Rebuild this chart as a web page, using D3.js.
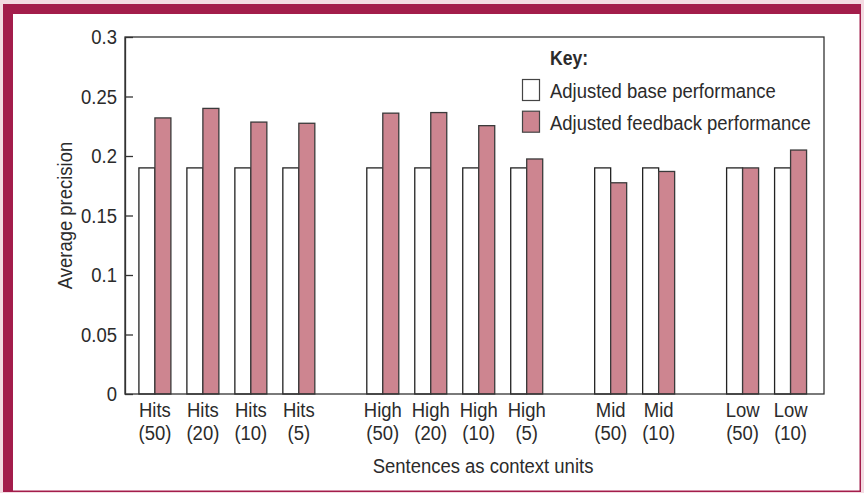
<!DOCTYPE html>
<html>
<head>
<meta charset="utf-8">
<script src="https://cdn.jsdelivr.net/npm/d3@7"></script>
<style>
  html, body { margin: 0; padding: 0; background: #f3dbe2; }
  svg { display: block; }
  text { font-family: "Liberation Sans", Arial, sans-serif; fill: #2b2b2b; }
</style>
</head>
<body>
<div id="chart"></div>
<script>
// chart data
const labelTop = ["Hits", "Hits", "Hits", "Hits", "High", "High", "High", "High", "Mid", "Mid", "Low", "Low"];
const labelBottom = ["(50)", "(20)", "(10)", "(5)", "(50)", "(20)", "(10)", "(5)", "(50)", "(10)", "(50)", "(10)"];
const baseValues = [0.19, 0.19, 0.19, 0.19, 0.19, 0.19, 0.19, 0.19, 0.19, 0.19, 0.19, 0.19];
const feedbackValues = [0.232, 0.240, 0.2285, 0.2275, 0.236, 0.2365, 0.2255, 0.1975, 0.1775, 0.187, 0.19, 0.205];
const yTicks = [0, 0.05, 0.1, 0.15, 0.2, 0.25, 0.3];
const seriesNames = ["Adjusted base performance", "Adjusted feedback performance"];

// dimensions
const width = 864;
const height = 493;
const margin = {left: 125, right: 40, top: 37, bottom: 99};
const groupGap = 0.75;   // extra space between groups, in slot units
const barFrac = 1 / 3;   // bar width as fraction of a slot
const squeeze = 0.88;    // horizontal squeeze to get a condensed look
const fontSize = "21px";
const colors = {base: "#ffffff", feedback: "#cd8590", frame: "#a31d4b", axis: "#333333"};

const svg = d3.select("#chart")
  .append("svg")
  .attr("width", width)
  .attr("height", height);

// condensed text helper
function label(parent, x, y, str, anchor, extra) {
  return parent.append("text")
    .attr("transform", `translate(${x},${y}) ${extra || ""} scale(${squeeze},1)`)
    .attr("text-anchor", anchor)
    .attr("font-size", fontSize)
    .text(str);
}

// page frame: thick crimson on left/top, thin on right/bottom
svg.append("rect")
  .attr("x", 3).attr("y", 4)
  .attr("width", 858).attr("height", 488)
  .attr("fill", colors.frame);
svg.append("rect")
  .attr("x", 13).attr("y", 14)
  .attr("width", 846.5).attr("height", 476.5)
  .attr("fill", "#ffffff");

// slot position of each category (groups taken from the top label)
const groupNames = Array.from(new Set(labelTop));
const slots = labelTop.map((t, i) => i + groupNames.indexOf(t) * groupGap);
const lastSlot = d3.max(slots);

const plotLeft = margin.left;
const plotRight = width - margin.right;
const plotTop = margin.top;

let xScale = d3.scaleLinear()
  .domain([-0.29, lastSlot + 1.03])
  .range([plotLeft, plotRight]);

let yScale = d3.scaleLinear()
  .domain([0, 0.3])
  .range([height - margin.bottom, margin.top]);

const bw = xScale(barFrac) - xScale(0);

// bars
const rows = labelTop.map((t, i) => ({i: i, slot: slots[i], base: baseValues[i], feedback: feedbackValues[i]}));

svg.selectAll(".bar-base")
  .data(rows)
  .enter()
  .append("rect")
    .attr("class", "bar-base")
    .attr("x", d => xScale(d.slot))
    .attr("y", d => yScale(d.base))
    .attr("width", bw)
    .attr("height", d => yScale(0) - yScale(d.base))
    .attr("fill", colors.base)
    .attr("stroke", "#222")
    .attr("stroke-width", 1.3);

svg.selectAll(".bar-feedback")
  .data(rows)
  .enter()
  .append("rect")
    .attr("class", "bar-feedback")
    .attr("x", d => xScale(d.slot) + bw)
    .attr("y", d => yScale(d.feedback))
    .attr("width", bw)
    .attr("height", d => yScale(0) - yScale(d.feedback))
    .attr("fill", colors.feedback)
    .attr("stroke", "#3a3a3a")
    .attr("stroke-width", 1.3);

// plot box (top and right edges) and axes
svg.append("rect")
  .attr("x", plotLeft).attr("y", plotTop)
  .attr("width", plotRight - plotLeft)
  .attr("height", yScale(0) - plotTop)
  .attr("fill", "none")
  .attr("stroke", colors.axis)
  .attr("stroke-width", 1.3);

const yAxis = svg.append("g")
  .attr("transform", `translate(${plotLeft}, 0)`)
  .call(d3.axisLeft(yScale)
    .tickValues(yTicks)
    .tickFormat(d => String(d))
    .tickSizeInner(-8)
    .tickSizeOuter(0)
    .tickPadding(8));
yAxis.attr("font-family", null).attr("font-size", null);
yAxis.select(".domain").attr("stroke", colors.axis).attr("stroke-width", 1.3);
yAxis.selectAll(".tick line").attr("stroke", colors.axis).attr("stroke-width", 1.3);
yAxis.selectAll(".tick text")
  .attr("font-size", fontSize)
  .attr("fill", "#2b2b2b")
  .attr("x", -8 / squeeze)
  .attr("transform", `scale(${squeeze},1)`);

// category labels, two lines each
rows.forEach(d => {
  const cx = xScale(d.slot) + bw;
  label(svg, cx, 417, labelTop[d.i], "middle");
  label(svg, cx, 440, labelBottom[d.i], "middle");
});

// axis titles
label(svg, 483, 473, "Sentences as context units", "middle");
label(svg, 72, (plotTop + yScale(0)) / 2, "Average precision", "middle", "rotate(-90)");

// legend
const legend = svg.append("g").attr("transform", "translate(522, 0)");
label(legend, 28, 65, "Key:", "start")
  .attr("font-size", "20px")
  .attr("font-weight", "bold");
const legendFills = [colors.base, colors.feedback];
seriesNames.forEach((name, k) => {
  legend.append("rect")
    .attr("x", 0.5).attr("y", 79.5 + k * 31.7)
    .attr("width", 17).attr("height", 21)
    .attr("fill", legendFills[k])
    .attr("stroke", "#444")
    .attr("stroke-width", 1.2);
  label(legend, 28, 98 + k * 31.7, name, "start");
});
</script>
</body>
</html>
